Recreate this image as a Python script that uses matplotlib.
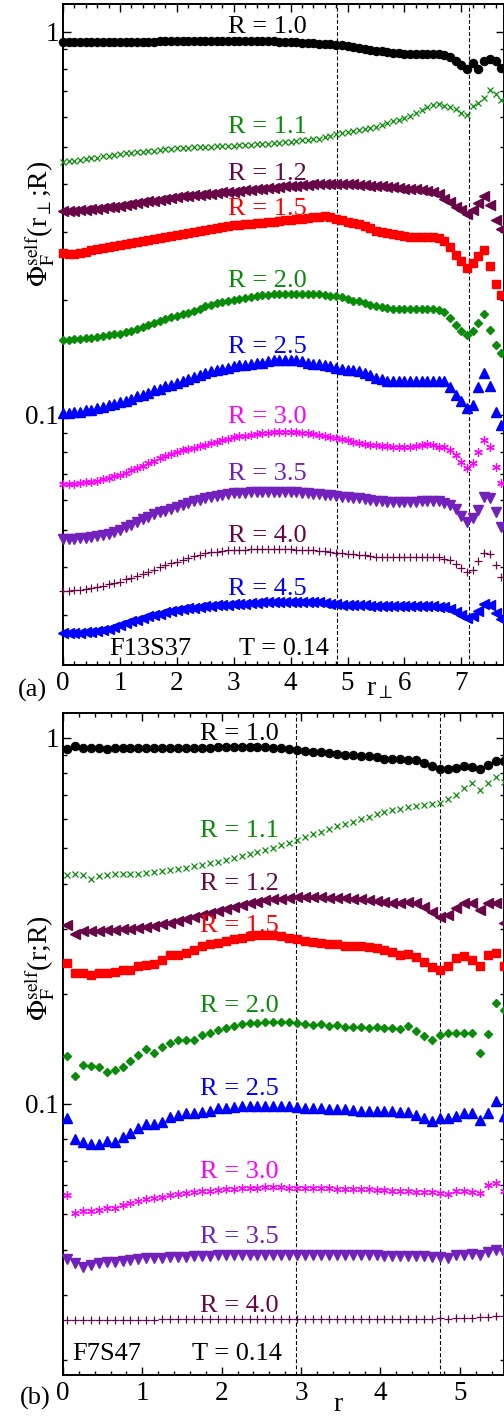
import numpy as np
import matplotlib
matplotlib.use('Agg')
import matplotlib.pyplot as plt
from matplotlib.ticker import MultipleLocator, LogLocator, NullFormatter, FuncFormatter

plt.rcParams['font.family'] = ['Liberation Serif', 'DejaVu Serif']
plt.rcParams['mathtext.fontset'] = 'stix'

# ---------------- panel (a): F13S37, vs r_perp ----------------
r_a = np.round(np.arange(78) * 0.1, 2)   # 0.0 ... 7.7

phi_a_10 = [0.940,0.941,0.941,0.941,0.942,0.942,0.942,0.942,0.943,0.943,
            0.943,0.943,0.943,0.944,0.944,0.944,0.944,0.945,0.945,0.945,
            0.945,0.945,0.946,0.946,0.946,0.946,0.946,0.947,0.947,0.947,
            0.947,0.947,0.947,0.947,0.947,0.946,0.946,0.945,0.944,0.943,
            0.942,0.940,0.938,0.936,0.934,0.932,0.930,0.928,0.925,0.922,
            0.918,0.913,0.908,0.903,0.898,0.894,0.890,0.886,0.882,0.880,
            0.878,0.877,0.876,0.876,0.877,0.878,0.877,0.870,0.858,0.842,
            0.818,0.800,0.830,0.802,0.842,0.850,0.838,0.805]
phi_a_11 = [0.457,0.459,0.461,0.463,0.465,0.468,0.470,0.473,0.475,0.478,
            0.480,0.482,0.483,0.485,0.487,0.488,0.490,0.492,0.494,0.495,
            0.497,0.498,0.499,0.500,0.500,0.501,0.502,0.503,0.504,0.504,
            0.505,0.506,0.507,0.508,0.509,0.510,0.511,0.512,0.514,0.515,
            0.517,0.519,0.521,0.523,0.525,0.527,0.531,0.536,0.542,0.546,
            0.549,0.552,0.555,0.558,0.561,0.566,0.571,0.578,0.584,0.590,
            0.595,0.605,0.615,0.626,0.636,0.645,0.648,0.642,0.636,0.628,
            0.615,0.607,0.640,0.652,0.672,0.706,0.690,0.664]
phi_a_12 = [0.340,0.340,0.341,0.342,0.343,0.344,0.346,0.347,0.349,0.350,
            0.352,0.354,0.355,0.357,0.359,0.361,0.363,0.365,0.367,0.369,
            0.370,0.372,0.373,0.375,0.376,0.377,0.378,0.380,0.381,0.382,
            0.383,0.384,0.386,0.387,0.388,0.390,0.391,0.392,0.394,0.395,
            0.396,0.397,0.398,0.399,0.400,0.400,0.401,0.401,0.401,0.401,
            0.400,0.400,0.399,0.398,0.397,0.396,0.395,0.394,0.393,0.391,
            0.390,0.389,0.388,0.387,0.385,0.382,0.378,0.366,0.360,0.350,
            0.343,0.334,0.342,0.358,0.373,0.353,0.322,0.305]
phi_a_15 = [0.265,0.264,0.264,0.265,0.267,0.269,0.271,0.273,0.275,0.276,
            0.278,0.280,0.282,0.283,0.285,0.287,0.288,0.290,0.292,0.293,
            0.295,0.297,0.298,0.300,0.302,0.304,0.306,0.308,0.310,0.311,
            0.313,0.314,0.315,0.316,0.317,0.318,0.319,0.320,0.321,0.322,
            0.323,0.324,0.325,0.327,0.328,0.329,0.330,0.328,0.325,0.323,
            0.320,0.318,0.315,0.311,0.307,0.303,0.301,0.299,0.296,0.295,
            0.293,0.292,0.292,0.292,0.292,0.292,0.290,0.284,0.274,0.262,
            0.252,0.242,0.249,0.260,0.269,0.245,0.220,0.206]
phi_a_20 = [0.157,0.157,0.158,0.158,0.159,0.159,0.160,0.161,0.162,0.163,
            0.163,0.165,0.166,0.168,0.170,0.172,0.174,0.176,0.178,0.180,
            0.181,0.183,0.185,0.187,0.189,0.192,0.194,0.196,0.197,0.199,
            0.200,0.201,0.202,0.203,0.205,0.206,0.206,0.207,0.207,0.207,
            0.207,0.207,0.207,0.207,0.207,0.207,0.206,0.205,0.204,0.203,
            0.201,0.199,0.198,0.196,0.194,0.193,0.191,0.190,0.189,0.189,
            0.189,0.189,0.189,0.189,0.189,0.189,0.188,0.186,0.179,0.172,
            0.166,0.162,0.166,0.174,0.183,0.167,0.152,0.145]
phi_a_25 = [0.101,0.101,0.102,0.102,0.103,0.103,0.104,0.105,0.106,0.107,
            0.108,0.109,0.110,0.112,0.113,0.114,0.116,0.117,0.119,0.120,
            0.121,0.123,0.124,0.126,0.127,0.129,0.130,0.131,0.132,0.133,
            0.134,0.135,0.135,0.136,0.137,0.137,0.138,0.139,0.139,0.139,
            0.139,0.139,0.138,0.137,0.136,0.136,0.135,0.134,0.133,0.132,
            0.131,0.131,0.130,0.129,0.127,0.125,0.124,0.123,0.123,0.123,
            0.123,0.123,0.123,0.123,0.123,0.123,0.123,0.123,0.118,0.113,
            0.109,0.104,0.106,0.118,0.129,0.119,0.102,0.094]
phi_a_30 = [0.0659,0.0660,0.0662,0.0664,0.0667,0.0670,0.0674,0.0679,0.0685,0.0691,
            0.0697,0.0707,0.0717,0.0727,0.0737,0.0748,0.0759,0.0770,0.0781,0.0792,
            0.0802,0.0809,0.0816,0.0822,0.0829,0.0835,0.0843,0.0851,0.0859,0.0867,
            0.0874,0.0879,0.0883,0.0888,0.0892,0.0896,0.0899,0.0901,0.0903,0.0904,
            0.0903,0.0901,0.0898,0.0895,0.0891,0.0887,0.0882,0.0876,0.0869,0.0864,
            0.0858,0.0852,0.0846,0.0840,0.0837,0.0835,0.0832,0.0829,0.0826,0.0824,
            0.0823,0.0823,0.0828,0.0834,0.0839,0.0834,0.0827,0.0826,0.0812,0.0786,
            0.0752,0.0726,0.0748,0.0800,0.0858,0.0826,0.0733,0.0665]
phi_a_35 = [0.0474,0.0474,0.0475,0.0476,0.0478,0.0480,0.0482,0.0486,0.0490,0.0495,
            0.0501,0.0509,0.0517,0.0525,0.0534,0.0543,0.0550,0.0557,0.0563,0.0570,
            0.0576,0.0582,0.0589,0.0595,0.0601,0.0606,0.0610,0.0614,0.0618,0.0621,
            0.0624,0.0626,0.0627,0.0628,0.0629,0.0630,0.0630,0.0630,0.0630,0.0630,
            0.0630,0.0628,0.0626,0.0624,0.0622,0.0621,0.0619,0.0617,0.0614,0.0612,
            0.0610,0.0608,0.0606,0.0603,0.0600,0.0597,0.0595,0.0594,0.0593,0.0592,
            0.0592,0.0593,0.0594,0.0595,0.0597,0.0597,0.0595,0.0589,0.0582,0.0568,
            0.0546,0.0526,0.0537,0.0565,0.0612,0.0606,0.0559,0.0511]
phi_a_40 = [0.0348,0.0348,0.0349,0.0350,0.0351,0.0353,0.0355,0.0358,0.0361,0.0364,
            0.0367,0.0372,0.0376,0.0381,0.0385,0.0390,0.0395,0.0400,0.0405,0.0410,
            0.0414,0.0419,0.0424,0.0428,0.0432,0.0435,0.0438,0.0440,0.0442,0.0443,
            0.0444,0.0445,0.0445,0.0446,0.0446,0.0446,0.0446,0.0446,0.0446,0.0446,
            0.0446,0.0445,0.0444,0.0444,0.0443,0.0442,0.0441,0.0439,0.0437,0.0436,
            0.0434,0.0433,0.0431,0.0430,0.0428,0.0427,0.0427,0.0426,0.0426,0.0426,
            0.0426,0.0426,0.0426,0.0427,0.0427,0.0427,0.0426,0.0421,0.0419,0.0408,
            0.0398,0.0390,0.0395,0.0417,0.0435,0.0434,0.0406,0.0378]
phi_a_45 = [0.0269,0.0269,0.0270,0.0270,0.0271,0.0272,0.0273,0.0275,0.0277,0.0280,
            0.0283,0.0286,0.0289,0.0292,0.0296,0.0299,0.0301,0.0303,0.0306,0.0308,
            0.0310,0.0311,0.0313,0.0314,0.0316,0.0317,0.0318,0.0319,0.0320,0.0320,
            0.0321,0.0322,0.0322,0.0323,0.0323,0.0324,0.0324,0.0324,0.0324,0.0324,
            0.0324,0.0324,0.0324,0.0324,0.0324,0.0324,0.0323,0.0322,0.0321,0.0320,
            0.0320,0.0320,0.0319,0.0319,0.0318,0.0318,0.0318,0.0318,0.0318,0.0318,
            0.0318,0.0318,0.0318,0.0317,0.0317,0.0317,0.0316,0.0315,0.0311,0.0306,
            0.0301,0.0296,0.0299,0.0308,0.0321,0.0319,0.0305,0.0293]

# ---------------- panel (b): F7S47, vs r ----------------
r_b = np.round(0.05 + np.arange(56) * 0.1, 2)   # bin centres 0.05 ... 5.55

phi_b_10 = [0.931,0.951,0.936,0.936,0.936,0.935,0.937,0.937,0.937,0.937,
            0.938,0.938,0.938,0.939,0.939,0.940,0.940,0.941,0.941,0.942,
            0.942,0.942,0.943,0.943,0.942,0.942,0.941,0.939,0.935,0.928,
            0.922,0.917,0.913,0.908,0.904,0.900,0.897,0.893,0.890,0.888,
            0.878,0.876,0.874,0.872,0.868,0.853,0.837,0.824,0.823,0.830,
            0.839,0.835,0.821,0.844,0.865,0.867]
phi_b_11 = [0.422,0.426,0.422,0.411,0.420,0.423,0.424,0.424,0.425,0.426,
            0.428,0.430,0.433,0.436,0.439,0.442,0.446,0.450,0.454,0.458,
            0.463,0.469,0.475,0.481,0.488,0.494,0.501,0.509,0.518,0.527,
            0.537,0.546,0.555,0.564,0.573,0.582,0.591,0.600,0.609,0.618,
            0.627,0.634,0.640,0.647,0.653,0.657,0.661,0.665,0.679,0.699,
            0.729,0.752,0.721,0.755,0.784,0.760]
phi_b_12 = [0.308,0.291,0.296,0.297,0.297,0.298,0.299,0.300,0.301,0.303,
            0.305,0.307,0.310,0.313,0.316,0.320,0.324,0.328,0.332,0.337,
            0.341,0.345,0.349,0.353,0.357,0.360,0.362,0.364,0.366,0.367,
            0.367,0.367,0.367,0.366,0.366,0.365,0.364,0.363,0.361,0.359,
            0.357,0.354,0.353,0.356,0.354,0.345,0.334,0.324,0.329,0.343,
            0.354,0.354,0.339,0.354,0.354,0.313]
phi_b_15 = [0.243,0.228,0.228,0.225,0.228,0.228,0.230,0.232,0.233,0.238,
            0.240,0.242,0.248,0.255,0.256,0.259,0.264,0.270,0.273,0.276,
            0.279,0.282,0.285,0.287,0.289,0.290,0.289,0.287,0.285,0.282,
            0.279,0.277,0.276,0.274,0.273,0.271,0.270,0.270,0.269,0.266,
            0.264,0.260,0.256,0.257,0.252,0.244,0.237,0.233,0.238,0.250,
            0.253,0.247,0.238,0.256,0.258,0.238]
phi_b_20 = [0.135,0.119,0.128,0.127,0.126,0.122,0.124,0.126,0.131,0.136,
            0.141,0.138,0.143,0.147,0.150,0.150,0.150,0.154,0.156,0.159,
            0.161,0.163,0.165,0.166,0.166,0.167,0.167,0.167,0.167,0.166,
            0.165,0.164,0.165,0.163,0.164,0.162,0.162,0.162,0.161,0.162,
            0.161,0.161,0.160,0.163,0.158,0.153,0.150,0.154,0.156,0.156,
            0.156,0.156,0.138,0.155,0.189,0.181]
phi_b_25 = [0.0914,0.0802,0.0786,0.0776,0.0776,0.0792,0.0789,0.0814,0.0835,0.0858,
            0.0882,0.0882,0.0895,0.0924,0.0934,0.0943,0.0945,0.0950,0.0955,0.0973,
            0.0977,0.0983,0.0986,0.0989,0.0989,0.0989,0.0989,0.0989,0.0989,0.0983,
            0.0973,0.0973,0.0973,0.0968,0.0968,0.0968,0.0963,0.0958,0.0958,0.0958,
            0.0956,0.0956,0.0953,0.0953,0.0935,0.0918,0.0900,0.0914,0.0918,0.0930,
            0.0943,0.0943,0.0904,0.0943,0.1016,0.0929]
phi_b_30 = [0.0564,0.0505,0.0510,0.0511,0.0513,0.0519,0.0521,0.0530,0.0537,0.0544,
            0.0549,0.0552,0.0558,0.0564,0.0569,0.0572,0.0575,0.0578,0.0580,0.0582,
            0.0585,0.0587,0.0588,0.0590,0.0591,0.0592,0.0592,0.0592,0.0591,0.0590,
            0.0589,0.0589,0.0588,0.0588,0.0587,0.0587,0.0586,0.0585,0.0584,0.0583,
            0.0581,0.0580,0.0580,0.0577,0.0576,0.0574,0.0575,0.0572,0.0566,0.0580,
            0.0578,0.0575,0.0573,0.0601,0.0609,0.0577]
phi_b_35 = [0.0376,0.0367,0.0359,0.0363,0.0367,0.0371,0.0371,0.0373,0.0375,0.0377,
            0.0379,0.0379,0.0379,0.0381,0.0383,0.0383,0.0384,0.0385,0.0385,0.0386,
            0.0386,0.0387,0.0387,0.0387,0.0387,0.0387,0.0387,0.0387,0.0387,0.0387,
            0.0387,0.0387,0.0387,0.0387,0.0387,0.0387,0.0386,0.0386,0.0386,0.0386,
            0.0385,0.0385,0.0385,0.0385,0.0385,0.0384,0.0381,0.0383,0.0380,0.0386,
            0.0387,0.0389,0.0387,0.0395,0.0400,0.0392]
phi_b_40 = [0.0257,0.0257,0.0257,0.0257,0.0257,0.0257,0.0257,0.0257,0.0257,0.0257,
            0.0257,0.0257,0.0258,0.0258,0.0258,0.0258,0.0258,0.0258,0.0258,0.0258,
            0.0258,0.0258,0.0258,0.0258,0.0258,0.0258,0.0258,0.0258,0.0258,0.0259,
            0.0258,0.0259,0.0259,0.0259,0.0259,0.0259,0.0259,0.0259,0.0259,0.0259,
            0.0259,0.0259,0.0259,0.0259,0.0259,0.0259,0.0259,0.0260,0.0259,0.0260,
            0.0261,0.0261,0.0262,0.0262,0.0263,0.0263]

# series styles (grace-like palette)
maroon = '#670748'
green = '#0a8c0a'
indigo = '#7221bc'
styles = {
    '1.0': dict(color='black', marker='o', ms=5.8),
    '1.1': dict(color=green, marker='x', ms=4.8, mew=0.9),
    '1.2': dict(color=maroon, marker='<', ms=6.6),
    '1.5': dict(color='red', marker='s', ms=5.3),
    '2.0': dict(color=green, marker='D', ms=4.2),
    '2.5': dict(color='blue', marker='^', ms=6.6),
    '3.0': dict(color='magenta', marker=(6, 2, 0), ms=6.2, mew=0.9),
    '3.5': dict(color=indigo, marker='v', ms=6.6),
    '4.0': dict(color=maroon, marker='+', ms=6.2, mew=0.9),
    '4.5': dict(color='blue', marker='<', ms=6.6),
}

series_a = [('1.0', phi_a_10), ('1.1', phi_a_11), ('1.2', phi_a_12), ('1.5', phi_a_15),
            ('2.0', phi_a_20), ('2.5', phi_a_25), ('3.0', phi_a_30), ('3.5', phi_a_35),
            ('4.0', phi_a_40), ('4.5', phi_a_45)]
series_b = [('1.0', phi_b_10), ('1.1', phi_b_11), ('1.2', phi_b_12), ('1.5', phi_b_15),
            ('2.0', phi_b_20), ('2.5', phi_b_25), ('3.0', phi_b_30), ('3.5', phi_b_35),
            ('4.0', phi_b_40)]

# label baselines (data units) for each R curve
lab_y_a = [0.994, 0.545, 0.411, 0.333, 0.216, 0.145, 0.0953, 0.0677, 0.0466, 0.0339]
lab_y_b = [0.987, 0.536, 0.384, 0.295, 0.1784, 0.1058, 0.0628, 0.0417, 0.0270]
vlines_a = [4.82, 7.14]
vlines_b = [2.93, 4.75]

W, H = 504, 1418
fig = plt.figure(figsize=(W / 100, H / 100), dpi=100)

def px_axes(left, top, right, bottom):
    return fig.add_axes([left / W, 1 - bottom / H, (right - left) / W, (bottom - top) / H])

ax_a = px_axes(63, 4, 503.5, 665)
ax_b = px_axes(63, 713, 503.5, 1375)

def decade_fmt(v, pos):
    if abs(v - 1) < 1e-9:
        return '1'
    if abs(v - 0.1) < 1e-9:
        return '0.1'
    return ''

def setup(ax, xmax, ylo, yhi):
    ax.set_yscale('log')
    ax.set_xlim(0, xmax)
    ax.set_ylim(ylo, yhi)
    ax.xaxis.set_major_locator(MultipleLocator(1))
    ax.xaxis.set_minor_locator(MultipleLocator(0.2))
    ax.yaxis.set_major_locator(LogLocator(base=10, numticks=10))
    ax.yaxis.set_minor_locator(LogLocator(base=10, subs=np.arange(2, 10), numticks=10))
    ax.yaxis.set_major_formatter(FuncFormatter(decade_fmt))
    ax.yaxis.set_minor_formatter(NullFormatter())
    ax.tick_params(which='both', direction='in', top=True, right=True, width=1.0,
                   labelsize=19.5)
    ax.tick_params(which='major', length=5.5)
    ax.tick_params(which='minor', length=3.2)
    ax.tick_params(axis='x', pad=4)
    ax.tick_params(axis='y', pad=3)
    for s in ax.spines.values():
        s.set_linewidth(1.4)

def draw(ax, r, series, lab_y, lab_x, vlines):
    for xv in vlines:
        ax.axvline(xv, color='black', lw=0.8, ls=(0, (3.5, 2)), zorder=1)
    for (key, vals), ly in zip(series, lab_y):
        st = styles[key]
        ax.plot(r, vals, ls='none', clip_on=False, zorder=3,
                mec=st['color'], mfc=st['color'], **st)
        ax.text(lab_x, ly, 'R = ' + key, color=st['color'], fontsize=19,
                ha='center', va='baseline')

setup(ax_a, 7.74, 0.02225, 1.183)
draw(ax_a, r_a, series_a, lab_y_a, 3.59, vlines_a)
ax_a.text(0.82, 0.0236, 'F13S37', fontsize=19, va='baseline')
ax_a.text(3.10, 0.0236, 'T = 0.14', fontsize=19, va='baseline')

setup(ax_b, 5.55, 0.01818, 1.170)
draw(ax_b, r_b, series_b, lab_y_b, 2.22, vlines_b)
ax_b.text(0.11, 0.0200, 'F7S47', fontsize=19, va='baseline')
ax_b.text(1.62, 0.0200, 'T = 0.14', fontsize=19, va='baseline')

def ftext(x, y, s, **kw):
    fig.text(x / W, 1 - y / H, s, **kw)

ftext(18, 697, '(a)', fontsize=19, va='baseline')
ftext(20, 1405, '(b)', fontsize=19, va='baseline')
ftext(366, 695, r'r$_\perp$', fontsize=20, va='baseline')
ftext(333, 1411, 'r', fontsize=20, va='baseline')
ftext(40, 224, r'$\Phi_{\mathrm{F}}^{\mathrm{self}}$(r$_\perp$;R)',
      fontsize=20, rotation=90, ha='center', va='center')
ftext(40, 968, r'$\Phi_{\mathrm{F}}^{\mathrm{self}}$(r;R)',
      fontsize=20, rotation=90, ha='center', va='center')

fig.savefig('out.png', dpi=100)
